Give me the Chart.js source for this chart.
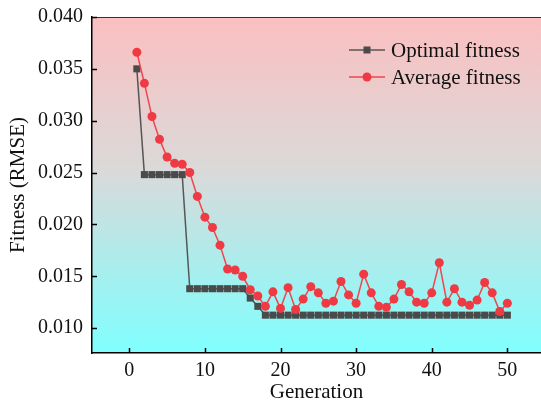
<!DOCTYPE html>
<html>
<head>
<meta charset="utf-8">
<script src="https://cdn.jsdelivr.net/npm/chart.js@4.4.1/dist/chart.umd.min.js"></script>
<style>
  html, body { margin: 0; padding: 0; background: #ffffff; overflow: hidden; }
  #wrap { width: 541px; height: 405px; position: relative; overflow: hidden; }
  #c { position: absolute; left: 0; top: -4px; }
</style>
</head>
<body>
<div id="wrap"><canvas id="c" width="546" height="409"></canvas></div>
<script>
// ---- data ----
const generations = [1,2,3,4,5,6,7,8,9,10,11,12,13,14,15,16,17,18,19,20,21,22,23,24,25,26,27,28,29,30,31,32,33,34,35,36,37,38,39,40,41,42,43,44,45,46,47,48,49,50];
const optimalFitness = [0.0350,0.0248,0.0248,0.0248,0.0248,0.0248,0.0248,0.0138,0.0138,0.0138,0.0138,0.0138,0.0138,0.0138,0.0138,0.0129,0.0121,0.01125,0.01125,0.01125,0.01125,0.01125,0.01125,0.01125,0.01125,0.01125,0.01125,0.01125,0.01125,0.01125,0.01125,0.01125,0.01125,0.01125,0.01125,0.01125,0.01125,0.01125,0.01125,0.01125,0.01125,0.01125,0.01125,0.01125,0.01125,0.01125,0.01125,0.01125,0.01125,0.01125];
const averageFitness = [0.0366,0.0336,0.0304,0.0282,0.0265,0.0259,0.0258,0.0250,0.0227,0.0207,0.0197,0.0180,0.0157,0.0156,0.0150,0.0137,0.0131,0.0121,0.0135,0.0119,0.0139,0.0118,0.0128,0.0140,0.0134,0.0124,0.0126,0.0145,0.0132,0.0124,0.0152,0.0134,0.0121,0.0120,0.0128,0.0142,0.0135,0.0125,0.0124,0.0134,0.0163,0.0125,0.0138,0.0125,0.0122,0.0127,0.0144,0.0134,0.0116,0.0124];
const xTickValues = [0,10,20,30,40,50];
const yTickValues = [0.010,0.015,0.020,0.025,0.030,0.035,0.040];
const seriesNames = ['Optimal fitness','Average fitness'];
const xTitle = 'Generation';
const yTitle = 'Fitness (RMSE)';

// ---- styles ----
const FONT = '"Liberation Serif", "Times New Roman", serif';
const greyLine = '#565656', greyMark = '#4a4a4a';
const redLine = '#f0454c', redMark = '#ef3a43';
const OY = 4; // canvas is shifted up by this many pixels

const bgPlugin = {
  id: 'bg',
  beforeDraw(chart) {
    const {ctx, chartArea: a} = chart;
    const g = ctx.createLinearGradient(0, a.top, 0, a.bottom);
    g.addColorStop(0, 'rgb(251,191,192)');
    g.addColorStop(0.45, 'rgb(219,217,217)');
    g.addColorStop(1, 'rgb(128,255,255)');
    ctx.save();
    ctx.fillStyle = g;
    ctx.fillRect(a.left, a.top, a.right - a.left, a.bottom - a.top);
    ctx.restore();
  },
  afterDraw(chart) {
    const {ctx, chartArea: a, scales} = chart;
    ctx.save();
    // top frame line
    ctx.strokeStyle = '#333';
    ctx.lineWidth = 1;
    ctx.beginPath();
    ctx.moveTo(a.left, Math.round(a.top) + 0.5);
    ctx.lineTo(a.right, Math.round(a.top) + 0.5);
    ctx.stroke();
    // inward ticks
    ctx.strokeStyle = '#000';
    ctx.lineWidth = 1.5;
    scales.y.ticks.forEach(t => {
      const y = Math.round(scales.y.getPixelForValue(t.value)) + 0.5;
      ctx.beginPath(); ctx.moveTo(a.left, y); ctx.lineTo(a.left + 5, y); ctx.stroke();
    });
    scales.x.ticks.forEach(t => {
      const x = Math.round(scales.x.getPixelForValue(t.value)) + 0.5;
      ctx.beginPath(); ctx.moveTo(x, a.bottom); ctx.lineTo(x, a.bottom - 5); ctx.stroke();
    });
    // legend
    const items = [
      {name: seriesNames[0], line: greyLine, mark: greyMark, shape: 'rect', y: 50 + OY},
      {name: seriesNames[1], line: redLine, mark: redMark, shape: 'circle', y: 77 + OY}
    ];
    items.forEach(it => {
      ctx.strokeStyle = it.line; ctx.lineWidth = 1.5;
      ctx.beginPath(); ctx.moveTo(349, it.y); ctx.lineTo(385, it.y); ctx.stroke();
      ctx.fillStyle = it.mark;
      if (it.shape === 'rect') { ctx.fillRect(363.5, it.y - 3.5, 7, 7); }
      else { ctx.beginPath(); ctx.arc(367, it.y, 4.5, 0, Math.PI * 2); ctx.fill(); }
      ctx.fillStyle = '#111';
      ctx.font = '21px ' + FONT;
      ctx.textBaseline = 'middle';
      ctx.textAlign = 'left';
      ctx.fillText(it.name, 391, it.y + 1);
    });
    ctx.restore();
  }
};

const ctx = document.getElementById('c').getContext('2d');
new Chart(ctx, {
  type: 'line',
  data: {
    datasets: [
      {
        label: seriesNames[1],
        data: generations.map((g, i) => ({x: g, y: averageFitness[i]})),
        borderColor: redLine, borderWidth: 1.5,
        backgroundColor: redMark, pointBackgroundColor: redMark, pointBorderColor: redMark,
        pointStyle: 'circle', pointRadius: 4.5, pointBorderWidth: 0,
        tension: 0, order: 0
      },
      {
        label: seriesNames[0],
        data: generations.map((g, i) => ({x: g, y: optimalFitness[i]})),
        borderColor: greyLine, borderWidth: 1.5,
        backgroundColor: greyMark, pointBackgroundColor: greyMark, pointBorderColor: greyMark,
        pointStyle: 'rect', pointRadius: 5, pointBorderWidth: 0,
        tension: 0, order: 1
      }
    ]
  },
  options: {
    responsive: false,
    animation: false,
    devicePixelRatio: 1,
    layout: { padding: { top: 12, right: 0, left: 0, bottom: 0 } },
    plugins: { legend: { display: false }, tooltip: { enabled: false } },
    scales: {
      x: {
        type: 'linear', min: -4.93, max: 54.45,
        afterBuildTicks: s => { s.ticks = xTickValues.map(v => ({value: v})); },
        afterFit: s => { s.height = 52; },
        ticks: { color: '#111', font: { family: FONT, size: 20 }, padding: 6, maxRotation: 0 },
        grid: { drawOnChartArea: false, drawTicks: false },
        border: { display: true, color: '#000', width: 1.5 },
        title: { display: true, text: xTitle, color: '#111', font: { family: FONT, size: 21 }, padding: { top: 0, bottom: 0 } }
      },
      y: {
        type: 'linear', min: 0.0076, max: 0.040,
        afterBuildTicks: s => { s.ticks = yTickValues.map(v => ({value: v})); },
        afterFit: s => { s.width = 92; },
        ticks: { color: '#111', font: { family: FONT, size: 20 }, padding: 9, callback: v => Number(v).toFixed(3) },
        grid: { drawOnChartArea: false, drawTicks: false },
        border: { display: true, color: '#000', width: 1.5 },
        title: { display: true, text: yTitle, color: '#111', font: { family: FONT, size: 21 }, padding: { top: 6, bottom: 0 } }
      }
    }
  },
  plugins: [bgPlugin]
});
</script>
</body>
</html>
